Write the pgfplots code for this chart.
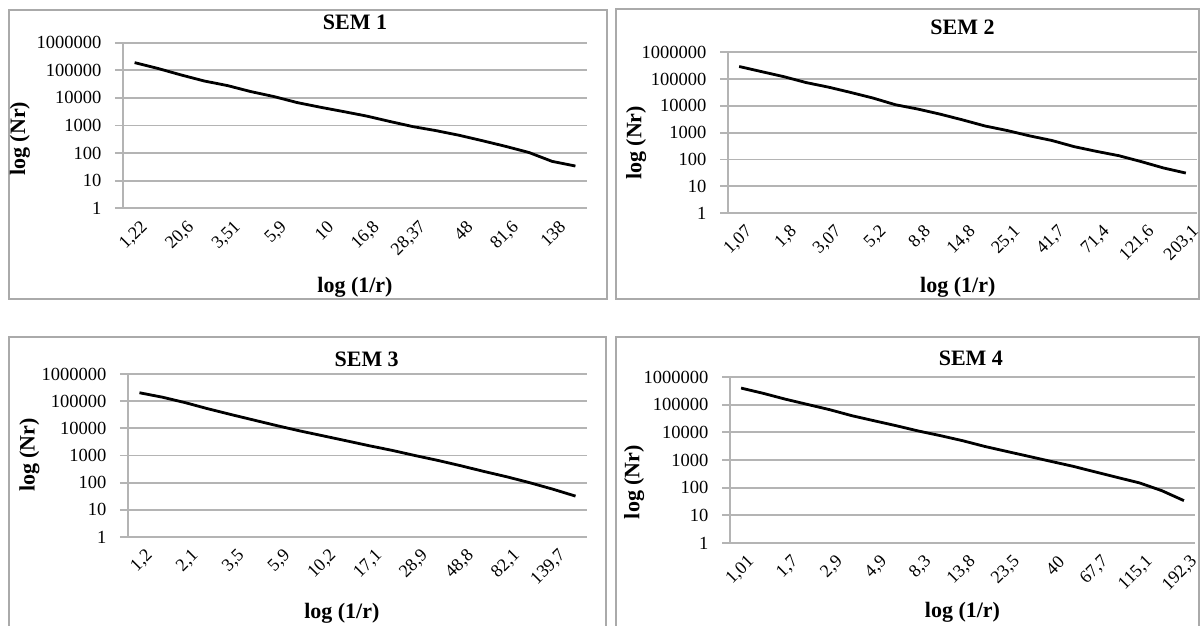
\documentclass[border=0pt]{standalone}
\usepackage{fontspec}
\setmainfont{Liberation Serif}
\usepackage{pgfplots}
\pgfplotsset{compat=1.18}
\definecolor{gridgray}{RGB}{180,180,180}
\definecolor{framegray}{RGB}{170,170,170}
\pgfplotsset{
  semax/.style={
    scale only axis,
    ymin=1, ymax=1000000,
    ytick={1,10,100,1000,10000,100000,1000000},
    yticklabels={1,10,100,1000,10000,100000,1000000},
    axis lines*=left,
    axis line style={gridgray, line width=1.8pt},
    ymajorgrids,
    major grid style={gridgray, line width=1.8pt},
    tick align=outside,
    major tick length=8pt,
    minor tick length=5pt,
    ytick style={gridgray, line width=1.8pt},
    xtick style={draw=none},
    minor x tick style={gridgray, line width=1.2pt},
    yminorticks=false,
    y tick label style={font=\fontsize{18.5}{18.5}\selectfont, xshift=-10pt},
    x tick label style={font=\fontsize{18}{18}\selectfont, rotate=45, anchor=east, yshift=-13pt, xshift=5pt},
    title style={font=\fontsize{22}{22}\selectfont\bfseries, anchor=center},
    xlabel style={font=\fontsize{22}{22}\selectfont\bfseries, anchor=center},
    ylabel style={font=\fontsize{22}{22}\selectfont\bfseries, anchor=center},
  },
  semline/.style={black, line width=2.8pt, no marks, line join=round},
}
\begin{document}
\begin{tikzpicture}[x=1pt,y=1pt]
\useasboundingbox (0,0) rectangle (1200,625);
% frames
\draw[framegray, line width=1.5pt] (9,326) rectangle (607,615);
\draw[framegray, line width=1.5pt] (616,326) rectangle (1199,616);
\draw[framegray, line width=1.5pt] (9,-5) rectangle (606,288);
\draw[framegray, line width=1.5pt] (616,-5) rectangle (1199,288);

% SEM 1
\begin{axis}[ymode=log, semax,
  at={(123pt,416.7pt)}, anchor=south west,
  width=464pt, height=165.6pt,
  xmin=0.5, xmax=20.5,
  xtick={1,3,...,19},
  xticklabels={{1,22},{20,6},{3,51},{5,9},{10},{16,8},{28,37},{48},{81,6},{138}},
  minor xtick={0.5,1.5,...,20.5},
  title={SEM 1}, title style={at={(axis description cs:0.5,1.085)}},
  xlabel={log (1/r)}, xlabel style={at={(axis description cs:0.5,-0.475)}},
  ylabel={log (Nr)}, ylabel style={at={(axis description cs:-0.222,0.42)}},
]
\addplot[semline] coordinates {
(1,190000) (2,117000) (3,68000) (4,41000) (5,28000) (6,17000) (7,11200) (8,6800) (9,4600) (10,3200)
(11,2200) (12,1400) (13,910) (14,650) (15,440) (16,280) (17,175) (18,105) (19,50) (20,34)};
\end{axis}

% SEM 2
\begin{axis}[ymode=log, semax,
  at={(728pt,412pt)}, anchor=south west,
  width=469pt, height=160.7pt,
  xmin=0.5, xmax=21.5,
  xtick={1,3,...,21},
  xticklabels={{1,07},{1,8},{3,07},{5,2},{8,8},{14,8},{25,1},{41,7},{71,4},{121,6},{203,1}},
  minor xtick={0.5,1.5,...,21.5},
  title={SEM 2}, title style={at={(axis description cs:0.5,1.12)}},
  xlabel={log (1/r)}, xlabel style={at={(axis description cs:0.49,-0.46)}},
  ylabel={log (Nr)}, ylabel style={at={(axis description cs:-0.196,0.436)}},
]
\addplot[semline] coordinates {
(1,295000) (2,190000) (3,123000) (4,74000) (5,50000) (6,31600) (7,19500) (8,11000) (9,7600) (10,4900)
(11,3000) (12,1780) (13,1200) (14,760) (15,510) (16,300) (17,200) (18,138) (19,83) (20,48) (21,31)};
\end{axis}

% SEM 3
\begin{axis}[ymode=log, semax,
  at={(128pt,88pt)}, anchor=south west,
  width=459pt, height=163pt,
  xmin=0.5, xmax=20.5,
  xtick={1,3,...,19},
  xticklabels={{1,2},{2,1},{3,5},{5,9},{10,2},{17,1},{28,9},{48,8},{82,1},{139,7}},
  minor xtick={0.5,1.5,...,20.5},
  title={SEM 3}, title style={at={(axis description cs:0.52,1.055)}},
  xlabel={log (1/r)}, xlabel style={at={(axis description cs:0.466,-0.466)}},
  ylabel={log (Nr)}, ylabel style={at={(axis description cs:-0.215,0.503)}},
]
\addplot[semline] coordinates {
(1,204000) (2,140000) (3,88000) (4,52000) (5,32000) (6,20000) (7,12500) (8,8000) (9,5300) (10,3500)
(11,2300) (12,1550) (13,1000) (14,660) (15,420) (16,260) (17,165) (18,100) (19,58) (20,32)};
\end{axis}

% SEM 4
\begin{axis}[ymode=log, semax,
  at={(730pt,82pt)}, anchor=south west,
  width=465pt, height=166pt,
  xmin=0.5, xmax=21.5,
  xtick={1,3,...,21},
  xticklabels={{1,01},{1,7},{2,9},{4,9},{8,3},{13,8},{23,5},{40},{67,7},{115,1},{192,3}},
  minor xtick={0.5,1.5,...,21.5},
  title={SEM 4}, title style={at={(axis description cs:0.518,1.075)}},
  xlabel={log (1/r)}, xlabel style={at={(axis description cs:0.5,-0.42)}},
  ylabel={log (Nr)}, ylabel style={at={(axis description cs:-0.206,0.367)}},
]
\addplot[semline] coordinates {
(1,398000) (2,257000) (3,158000) (4,102000) (5,66000) (6,40000) (7,26300) (8,17400) (9,11200) (10,7600)
(11,5000) (12,3100) (13,2040) (14,1350) (15,890) (16,590) (17,370) (18,234) (19,148) (20,78) (21,34)};
\end{axis}
\end{tikzpicture}
\end{document}
